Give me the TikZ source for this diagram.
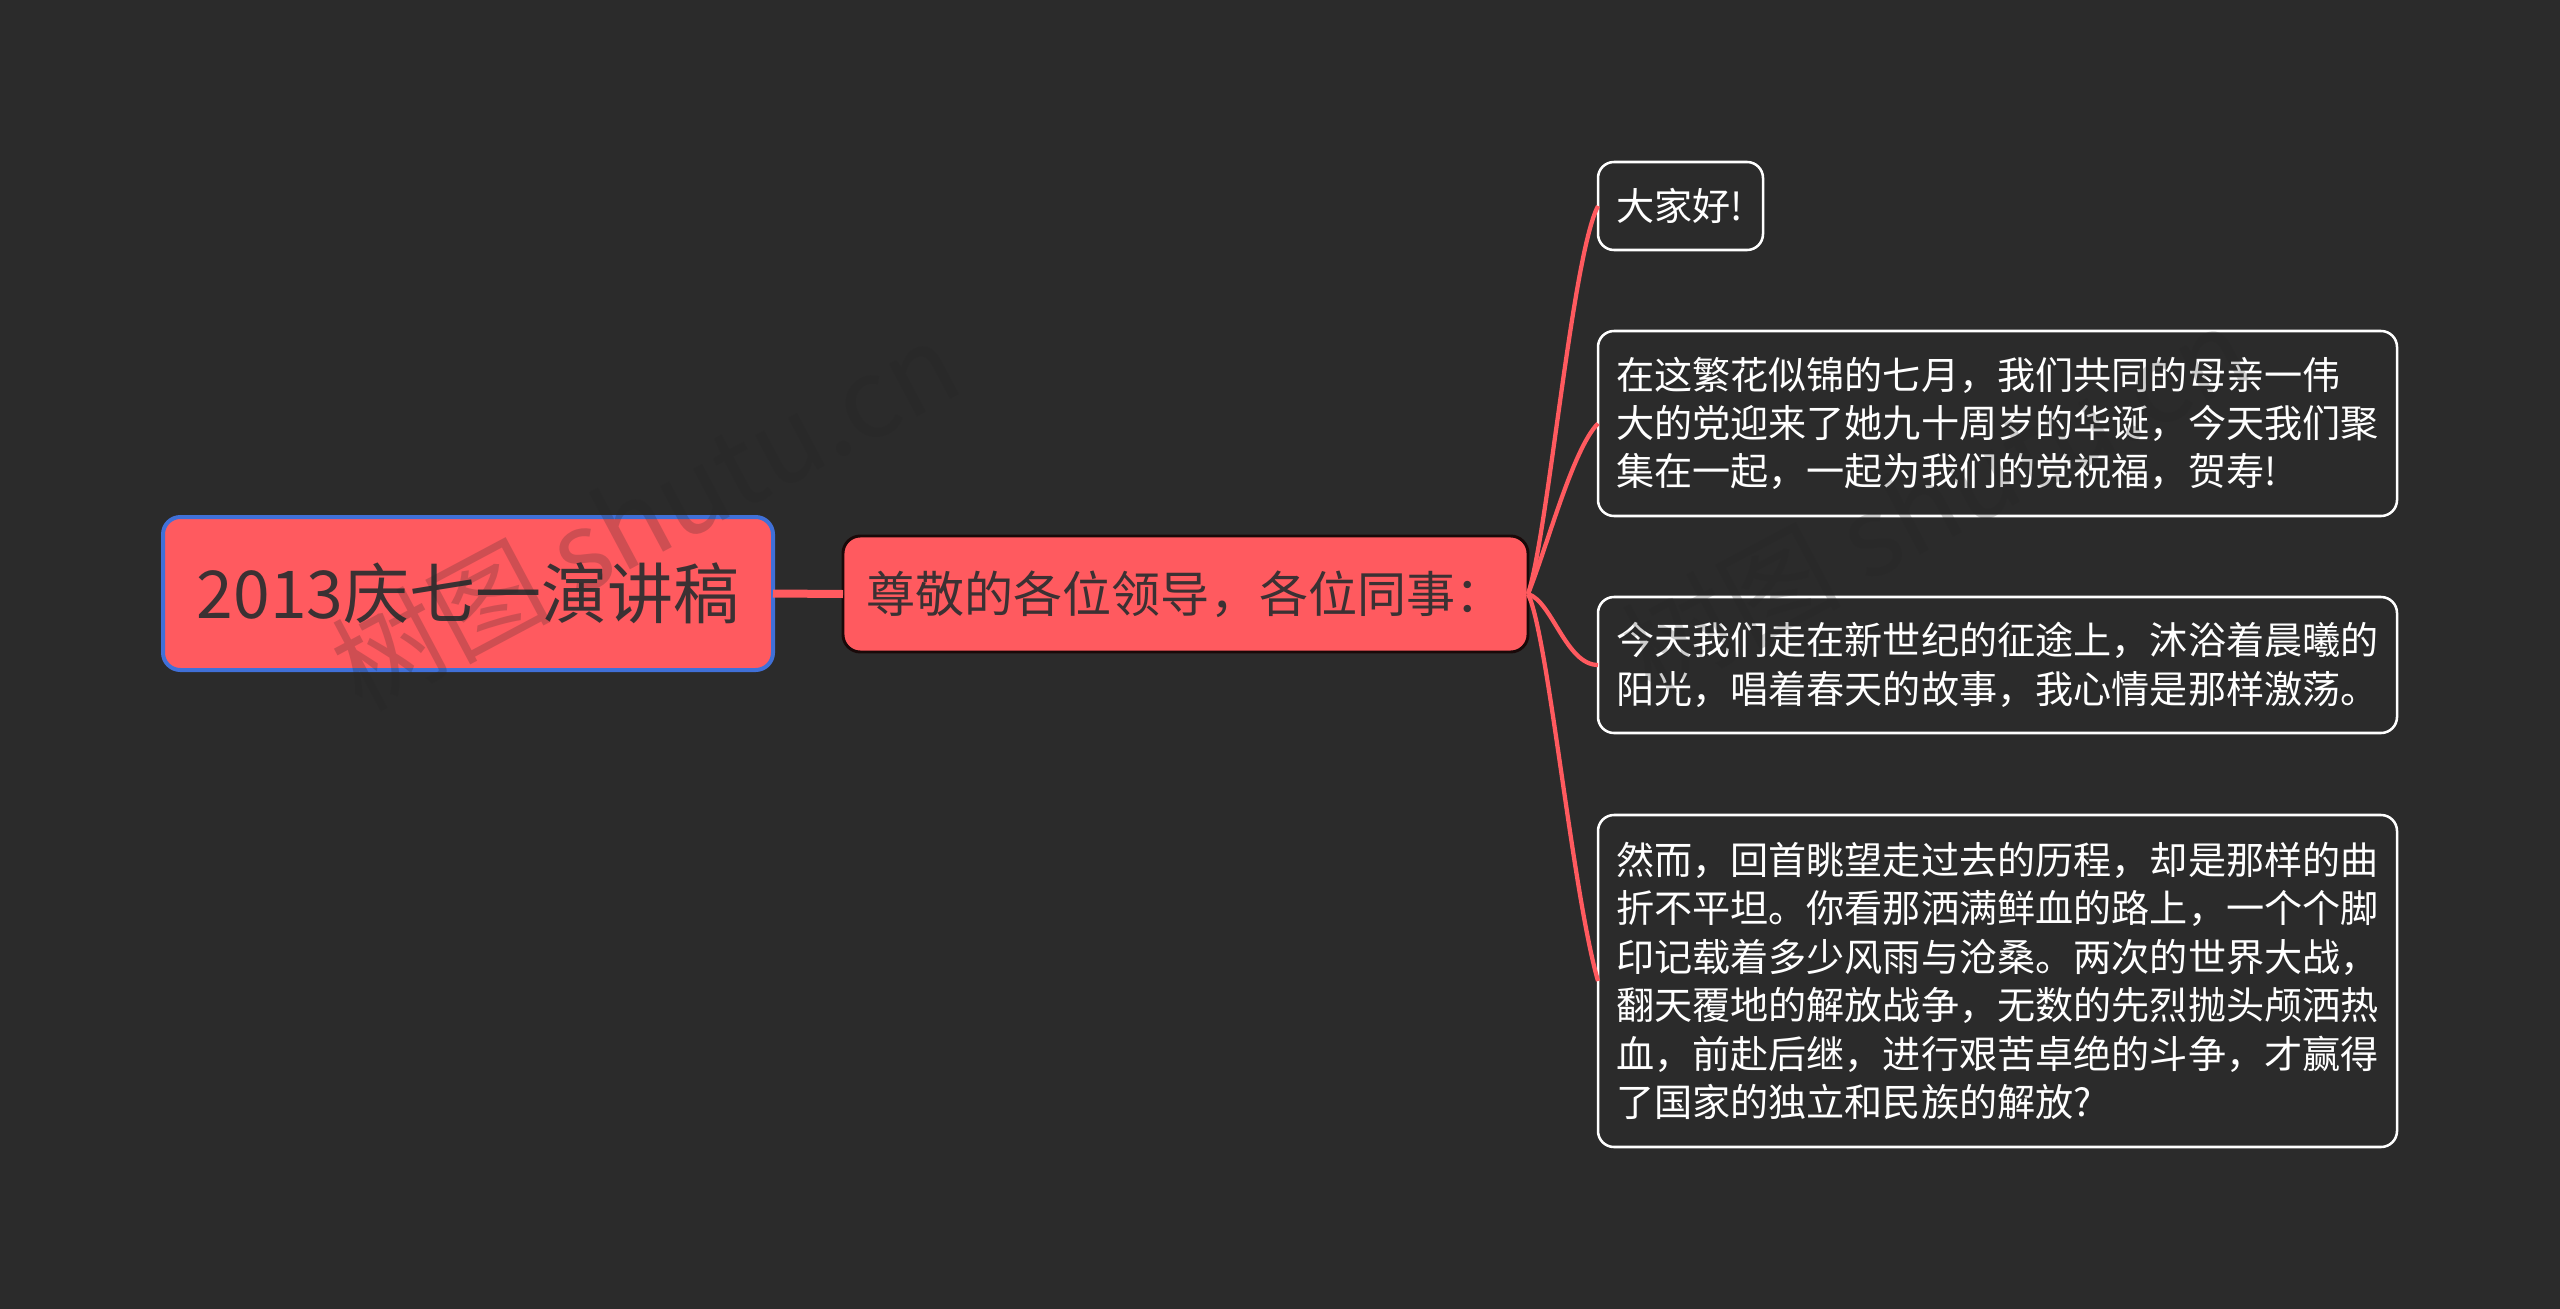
\documentclass[tikz,border=0pt]{standalone}
\usepackage{fontspec}
\setmainfont{Noto Sans CJK SC}
\definecolor{pagebg}{HTML}{2B2B2B}
\definecolor{mapred}{HTML}{FF5A5F}
\definecolor{rootblue}{HTML}{4070D8}
\definecolor{inkdark}{HTML}{3B3133}
\tikzset{
  rootbox/.style={draw=rootblue,fill=mapred,line width=3pt,rounded corners=13pt,outer sep=0pt,inner sep=0pt,anchor=north west,text=inkdark,font=\fontsize{49.5pt}{60pt}\selectfont},
  midbox/.style={draw=black!90!mapred,fill=mapred,line width=2.2pt,rounded corners=13pt,outer sep=0pt,inner sep=0pt,anchor=north west,text=inkdark,font=\fontsize{36.8pt}{44pt}\selectfont},
  leafbox/.style={draw=white,fill=pagebg,line width=1.9pt,rounded corners=12pt,outer sep=0pt,inner xsep=13.5pt,inner ysep=0pt,anchor=north west,text=white,align=left,font=\fontsize{28.6pt}{36.3pt}\selectfont},
  branch/.style={draw=mapred,line width=3.2pt},
  stamp/.style={text=black!15!pagebg,opacity=0.22,rotate=28,font=\fontsize{82pt}{82pt}\selectfont}
}
\begin{document}
\begin{tikzpicture}[x=0.75pt,y=0.75pt,yscale=-1]
	\useasboundingbox (0,0) rectangle (2560,1309);
	\fill[pagebg] (0,0) rectangle (2560,1309);
	%Shape: Root and middle box
	\node[rootbox,minimum width=457.5pt,minimum height=114.75pt] (root) at (163,517) {2013庆七一演讲稿};
	\node[midbox,minimum width=513.75pt,minimum height=87pt] (topic) at (843,536) {尊敬的各位领导，各位同事：};
	%Shape: Leaf boxes
	\node[leafbox,text width=96.75pt,minimum height=66pt] (hello) at (1598,162) {大家好!};
	\node[leafbox,text width=572.25pt,minimum height=138.75pt] (july) at (1598,331) {在这繁花似锦的七月，我们共同的母亲一伟\\大的党迎来了她九十周岁的华诞，今天我们聚\\集在一起，一起为我们的党祝福，贺寿!};
	\node[leafbox,text width=572.25pt,minimum height=102pt] (today) at (1598,597) {今天我们走在新世纪的征途上，沐浴着晨曦的\\阳光，唱着春天的故事，我心情是那样激荡。};
	\node[leafbox,text width=572.25pt,minimum height=249pt] (past) at (1598,815) {然而，回首眺望走过去的历程，却是那样的曲\\折不平坦。你看那洒满鲜血的路上，一个个脚\\印记载着多少风雨与沧桑。两次的世界大战，\\翻天覆地的解放战争，无数的先烈抛头颅洒热\\血，前赴后继，进行艰苦卓绝的斗争，才赢得\\了国家的独立和民族的解放?};
	%Connectors
	\draw[draw=mapred,line width=6pt] (root.east) -- (topic.west);
	\draw[branch] (topic.east) .. controls +(20,-60) and +(-26,50) .. (hello.west);
	\draw[branch] (topic.east) .. controls +(20,-50) and +(-25,25) .. (july.west);
	\draw[branch] (topic.east) .. controls +(24,7) and +(-32,0) .. (today.west);
	\draw[branch] (topic.east) .. controls +(20,40) and +(-26,-90) .. (past.west);
	%Watermark
	\node[stamp] (markleft) at (645,515) {树图 shutu.cn};
	\node[stamp] (markright) at (1935,500) {树图 shutu.cn};
\end{tikzpicture}
\end{document}
